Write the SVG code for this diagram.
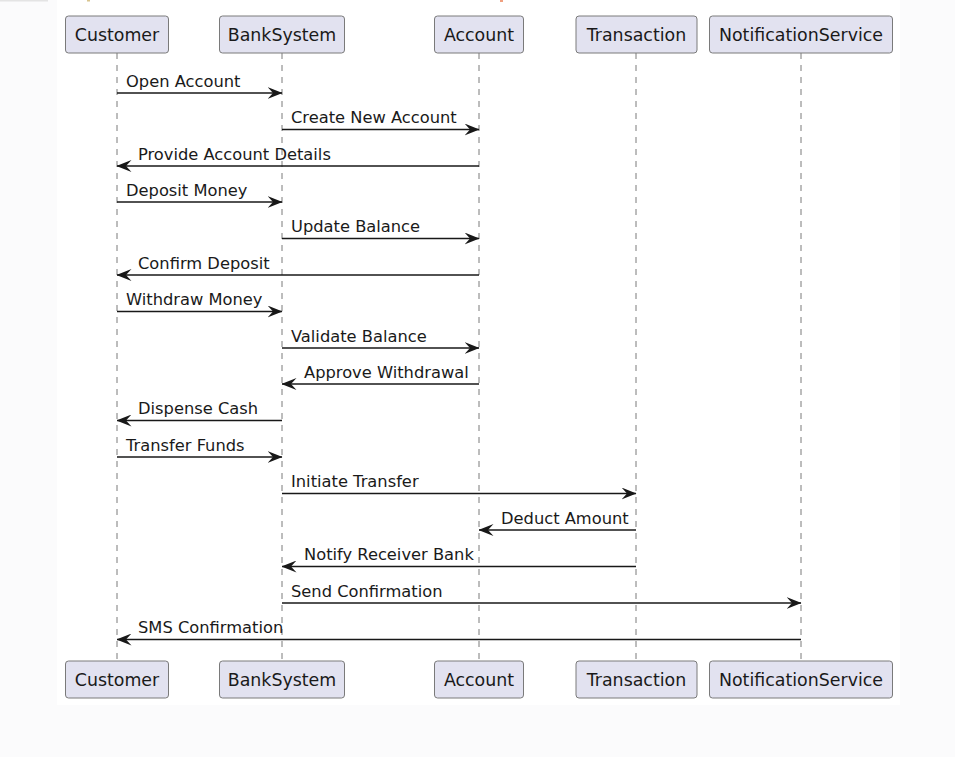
<svg xmlns="http://www.w3.org/2000/svg" width="955" height="757" viewBox="0 0 955 757">
<defs>
<style>
.bx{fill:#E2E2F0;stroke:#7a7a7a;stroke-width:1}
.pt{font-family:"DejaVu Sans","Liberation Sans",sans-serif;font-size:17.4px;fill:#1a1a1a;text-anchor:middle}
.ll{stroke:#7a7a7a;stroke-width:1;stroke-dasharray:6,6;fill:none}
.msg{stroke:#181818;stroke-width:1.4;fill:none}
.mt{font-family:"DejaVu Sans","Liberation Sans",sans-serif;font-size:16.3px;fill:#1a1a1a}
</style>
<marker id="ah" viewBox="0 0 15 12" refX="14.5" refY="6" markerWidth="15" markerHeight="12" markerUnits="userSpaceOnUse" orient="auto">
<polygon points="0,0 15,6 0,12 5.5,6" fill="#181818"/>
</marker>
</defs>
<rect x="0" y="0" width="955" height="757" fill="#fbfbfc"/>
<rect x="57" y="0" width="843" height="705" fill="#ffffff"/>
<rect x="0" y="0" width="48" height="1.5" fill="#e4e4e4"/>
<rect x="87" y="0" width="3" height="1.5" fill="#d8c48e"/>
<rect x="500" y="0" width="3" height="2" fill="#f0a080"/>

<g id="lifelines">
<line class="ll" x1="117" y1="53" x2="117" y2="661"/>
<line class="ll" x1="282" y1="53" x2="282" y2="661"/>
<line class="ll" x1="479" y1="53" x2="479" y2="661"/>
<line class="ll" x1="636" y1="53" x2="636" y2="661"/>
<line class="ll" x1="801" y1="53" x2="801" y2="661"/>
</g>

<g id="Customer">
<rect class="bx" x="65.5" y="16" width="103" height="37" rx="3"/>
<text class="pt" x="117" y="40.5">Customer</text>
<rect class="bx" x="65.5" y="661" width="103" height="37" rx="3"/>
<text class="pt" x="117" y="685.5">Customer</text>
</g>
<g id="BankSystem">
<rect class="bx" x="219.5" y="16" width="125" height="37" rx="3"/>
<text class="pt" x="282" y="40.5">BankSystem</text>
<rect class="bx" x="219.5" y="661" width="125" height="37" rx="3"/>
<text class="pt" x="282" y="685.5">BankSystem</text>
</g>
<g id="Account">
<rect class="bx" x="434.5" y="16" width="89" height="37" rx="3"/>
<text class="pt" x="479" y="40.5">Account</text>
<rect class="bx" x="434.5" y="661" width="89" height="37" rx="3"/>
<text class="pt" x="479" y="685.5">Account</text>
</g>
<g id="Transaction">
<rect class="bx" x="576" y="16" width="121" height="37" rx="3"/>
<text class="pt" x="636.5" y="40.5">Transaction</text>
<rect class="bx" x="576" y="661" width="121" height="37" rx="3"/>
<text class="pt" x="636.5" y="685.5">Transaction</text>
</g>
<g id="NotificationService">
<rect class="bx" x="709.5" y="16" width="183" height="37" rx="3"/>
<text class="pt" x="801" y="40.5">NotificationService</text>
<rect class="bx" x="709.5" y="661" width="183" height="37" rx="3"/>
<text class="pt" x="801" y="685.5">NotificationService</text>
</g>

<g id="connectors">
<line class="msg" marker-end="url(#ah)" x1="117" y1="93" x2="282" y2="93"/>
<text class="mt" x="126" y="86.5">Open Account</text>
<line class="msg" marker-end="url(#ah)" x1="282" y1="129.5" x2="479" y2="129.5"/>
<text class="mt" x="291" y="123">Create New Account</text>
<line class="msg" marker-end="url(#ah)" x1="479" y1="166" x2="117" y2="166"/>
<text class="mt" x="138" y="159.5">Provide Account Details</text>
<line class="msg" marker-end="url(#ah)" x1="117" y1="202" x2="282" y2="202"/>
<text class="mt" x="126" y="195.5">Deposit Money</text>
<line class="msg" marker-end="url(#ah)" x1="282" y1="238.5" x2="479" y2="238.5"/>
<text class="mt" x="291" y="232">Update Balance</text>
<line class="msg" marker-end="url(#ah)" x1="479" y1="275" x2="117" y2="275"/>
<text class="mt" x="138" y="268.5">Confirm Deposit</text>
<line class="msg" marker-end="url(#ah)" x1="117" y1="311.5" x2="282" y2="311.5"/>
<text class="mt" x="126" y="305">Withdraw Money</text>
<line class="msg" marker-end="url(#ah)" x1="282" y1="348" x2="479" y2="348"/>
<text class="mt" x="291" y="341.5">Validate Balance</text>
<line class="msg" marker-end="url(#ah)" x1="479" y1="384" x2="282" y2="384"/>
<text class="mt" x="304" y="377.5">Approve Withdrawal</text>
<line class="msg" marker-end="url(#ah)" x1="282" y1="420.5" x2="117" y2="420.5"/>
<text class="mt" x="138" y="414">Dispense Cash</text>
<line class="msg" marker-end="url(#ah)" x1="117" y1="457" x2="282" y2="457"/>
<text class="mt" x="126" y="450.5">Transfer Funds</text>
<line class="msg" marker-end="url(#ah)" x1="282" y1="493.5" x2="636" y2="493.5"/>
<text class="mt" x="291" y="487">Initiate Transfer</text>
<line class="msg" marker-end="url(#ah)" x1="636" y1="530" x2="479" y2="530"/>
<text class="mt" x="501" y="523.5">Deduct Amount</text>
<line class="msg" marker-end="url(#ah)" x1="636" y1="566.5" x2="282" y2="566.5"/>
<text class="mt" x="304" y="560">Notify Receiver Bank</text>
<line class="msg" marker-end="url(#ah)" x1="282" y1="603" x2="801" y2="603"/>
<text class="mt" x="291" y="596.5">Send Confirmation</text>
<line class="msg" marker-end="url(#ah)" x1="801" y1="639.5" x2="117" y2="639.5"/>
<text class="mt" x="138" y="633">SMS Confirmation</text>
</g>
</svg>
